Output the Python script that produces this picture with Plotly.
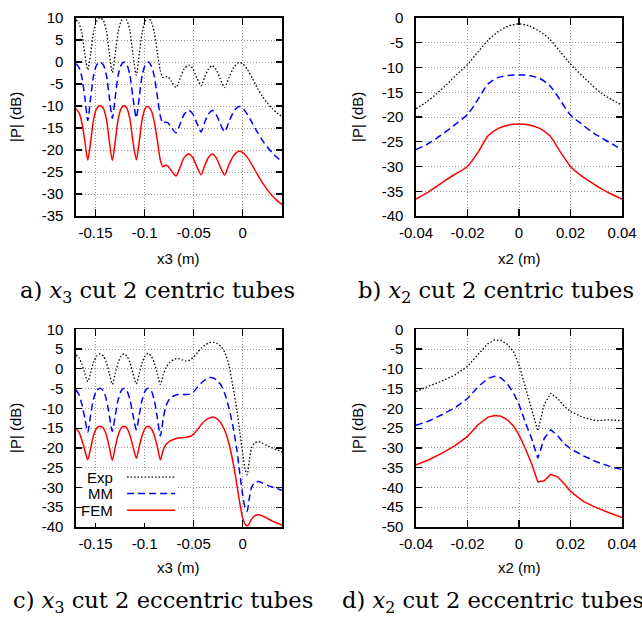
import plotly.graph_objects as go

# ---------------- data ----------------
# a) x3 cut, 2 centric tubes
x_a = [-0.170, -0.167, -0.164, -0.161, -0.158, -0.155, -0.152, -0.149, -0.1455, -0.142,
       -0.139, -0.136, -0.133, -0.130, -0.127, -0.124, -0.121, -0.118, -0.115, -0.112,
       -0.1085, -0.1055, -0.1025, -0.0995, -0.0965, -0.093, -0.090, -0.087, -0.084, -0.0815,
       -0.079, -0.0765, -0.0725, -0.068, -0.064, -0.060, -0.055, -0.051, -0.047, -0.0425,
       -0.039, -0.035, -0.031, -0.027, -0.023, -0.0185, -0.014, -0.009, -0.004, 0.000,
       0.005, 0.010, 0.015, 0.020, 0.025, 0.030, 0.035, 0.040]
exp_a = [9.6, 8.8, 6.5, 1.8, -1.8, 2.0, 7.0, 9.3, 10.1, 9.4,
         7.0, 2.0, -2.4, 1.8, 6.8, 9.3, 10.1, 9.4, 7.0, 1.8,
         -3.0, 1.8, 6.8, 9.3, 10.1, 9.0, 6.5, 2.0, -2.0, -3.5,
         -3.4, -3.3, -4.5, -5.8, -3.8, -1.7, -0.7, -1.5, -3.5, -5.4,
         -3.5, -1.6, -0.8, -1.8, -3.8, -5.8, -3.5, -1.2, -0.1, -0.4,
         -1.8, -3.8, -6.0, -7.8, -9.3, -10.6, -11.6, -12.4]
mm_a = [-0.4, -1.2, -3.5, -8.0, -13.3, -8.0, -3.0, -0.7, 0.0, -0.7,
        -3.0, -8.0, -12.8, -8.0, -3.0, -0.7, 0.0, -0.7, -3.0, -8.0,
        -12.7, -8.0, -3.0, -0.7, 0.0, -1.0, -3.5, -8.0, -12.3, -13.9,
        -13.7, -13.8, -15.0, -16.1, -14.2, -12.0, -11.0, -11.8, -13.8, -15.9,
        -13.8, -11.8, -11.0, -12.0, -14.0, -15.9, -13.5, -11.2, -10.1, -10.5,
        -12.0, -14.0, -16.0, -17.8, -19.3, -20.6, -21.7, -22.6]
fem_a = [-10.6, -11.5, -13.8, -18.0, -22.3, -18.0, -13.0, -10.6, -9.9, -10.6,
         -13.0, -18.0, -22.4, -18.0, -13.0, -10.6, -9.9, -10.6, -13.0, -18.0,
         -22.2, -18.0, -13.0, -10.6, -10.1, -11.2, -13.8, -18.0, -22.3, -23.8,
         -23.5, -23.6, -24.8, -25.9, -24.0, -21.8, -20.9, -21.7, -23.7, -25.6,
         -23.7, -21.7, -20.9, -21.8, -23.8, -25.7, -23.3, -21.2, -20.3, -20.6,
         -21.8, -23.6, -25.6, -27.4, -29.0, -30.4, -31.5, -32.4]

# b) x2 cut, 2 centric tubes
x_b = [-0.040, -0.036, -0.032, -0.028, -0.024, -0.020, -0.016, -0.012, -0.008, -0.004, 0.000,
       0.004, 0.008, 0.012, 0.016, 0.020, 0.024, 0.028, 0.032, 0.036, 0.040]
exp_b = [-18.3, -17.0, -15.3, -13.4, -11.3, -9.4, -6.9, -4.5, -2.7, -1.6, -1.2,
         -1.6, -2.7, -4.3, -6.8, -9.3, -11.4, -13.4, -15.2, -16.5, -17.6]
mm_b = [-26.6, -25.6, -24.3, -22.8, -21.2, -19.5, -16.5, -13.3, -12.0, -11.6, -11.5,
        -11.6, -12.2, -13.7, -16.6, -19.6, -21.3, -22.9, -24.2, -25.4, -26.6]
fem_b = [-36.6, -35.4, -34.0, -32.6, -31.3, -30.0, -27.2, -23.8, -22.3, -21.6, -21.4,
         -21.6, -22.3, -23.8, -27.0, -30.0, -31.8, -33.2, -34.5, -35.6, -36.6]

# c) x3 cut, 2 eccentric tubes
x_c = [-0.170, -0.167, -0.164, -0.161, -0.158, -0.155, -0.152, -0.149, -0.1455, -0.142,
       -0.139, -0.136, -0.133, -0.130, -0.127, -0.124, -0.121, -0.118, -0.115, -0.112,
       -0.1085, -0.1055, -0.1025, -0.0995, -0.0965, -0.093, -0.090, -0.087, -0.084, -0.081,
       -0.078, -0.074, -0.070, -0.066, -0.062, -0.058, -0.054, -0.050, -0.046, -0.042,
       -0.038, -0.034, -0.030, -0.026, -0.022, -0.018, -0.014, -0.010, -0.006, -0.003,
       0.000, 0.0025, 0.0045, 0.0065, 0.009, 0.012, 0.016, 0.020, 0.025, 0.030,
       0.035, 0.040]
exp_c = [3.5, 2.8, 1.2, -1.2, -3.2, -1.0, 1.8, 3.2, 3.8, 3.2,
         1.6, -1.2, -3.9, -1.2, 1.6, 3.2, 3.8, 3.2, 1.6, -1.2,
         -3.8, -1.2, 1.6, 3.3, 3.9, 3.1, 1.4, -1.3, -4.0, -1.5,
         0.4, 1.7, 2.4, 2.6, 2.3, 2.0, 2.2, 3.0, 4.2, 5.3,
         6.1, 6.6, 6.7, 6.4, 5.6, 4.0, 0.8, -4.5, -10.5, -16.0,
         -21.5, -25.5, -26.8, -23.5, -20.0, -18.8, -18.4, -18.8, -19.4, -20.0,
         -20.5, -21.0]
mm_c = [-5.3, -6.5, -9.0, -12.5, -16.0, -11.5, -7.5, -5.5, -4.9, -5.6,
        -7.8, -11.8, -15.8, -11.8, -7.8, -5.6, -4.9, -5.6, -7.8, -11.6,
        -15.4, -11.6, -7.8, -5.6, -4.9, -5.7, -8.2, -12.5, -17.0, -12.5,
        -9.2, -7.4, -6.8, -6.5, -6.5, -6.5, -6.4, -5.8, -4.6, -3.5,
        -2.7, -2.2, -2.3, -3.0, -4.2, -6.5, -10.0, -14.5, -20.5, -26.5,
        -32.0, -35.2, -36.0, -33.0, -30.0, -28.8, -28.5, -28.9, -29.4, -29.9,
        -30.3, -30.7]
fem_c = [-15.0, -16.0, -18.0, -20.6, -23.0, -20.0, -16.8, -15.0, -14.5, -15.0,
         -16.8, -19.8, -23.1, -19.8, -16.8, -15.0, -14.5, -15.0, -16.8, -19.6,
         -22.6, -19.6, -16.8, -15.0, -14.5, -15.2, -17.0, -19.8, -23.0, -20.5,
         -19.0, -18.2, -17.8, -17.5, -17.4, -17.3, -17.1, -16.5, -15.3, -14.0,
         -13.0, -12.4, -12.2, -12.7, -13.8, -15.8, -19.0, -23.5, -29.3, -34.0,
         -37.8, -39.3, -39.7, -39.2, -38.0, -37.2, -36.9, -37.2, -37.8, -38.5,
         -39.0, -39.5]

# d) x2 cut, 2 eccentric tubes
x_d = [-0.040, -0.035, -0.030, -0.025, -0.020, -0.016, -0.012, -0.0095, -0.007, -0.0045,
       -0.002, 0.000, 0.0025, 0.005, 0.0073, 0.0098, 0.0123, 0.015, 0.0175, 0.020,
       0.025, 0.030, 0.035, 0.040]
exp_d = [-15.7, -14.5, -13.1, -11.6, -9.4, -6.4, -3.6, -2.7, -2.8, -3.8,
         -5.8, -9.0, -14.6, -20.5, -25.7, -19.0, -16.2, -17.5, -19.4, -20.8,
         -22.3, -23.1, -22.9, -23.1]
mm_d = [-24.3, -23.2, -21.6, -19.9, -17.5, -14.6, -12.4, -11.9, -12.3, -13.8,
        -16.3, -19.0, -23.6, -27.8, -32.6, -27.6, -25.4, -26.9, -28.9, -30.2,
        -32.0, -33.5, -34.6, -35.5]
fem_d = [-34.3, -33.0, -31.4, -29.5, -27.1, -24.2, -22.2, -21.8, -22.0, -22.9,
         -24.6, -26.7, -30.2, -34.2, -38.6, -38.3, -36.7, -37.3, -39.0, -41.0,
         -43.5, -45.1, -46.4, -47.6]

series_names = ["Exp", "MM", "FEM"]
x3_ticks = [-0.15, -0.1, -0.05, 0]
x3_ticktext = ["-0.15", "-0.1", "-0.05", "0"]
x2_ticks = [-0.04, -0.02, 0, 0.02, 0.04]
x2_ticktext = ["-0.04", "-0.02", "0", "0.02", "0.04"]
captions = ["a) <i>x</i><sub>3</sub> cut 2 centric tubes",
            "b) <i>x</i><sub>2</sub> cut 2 centric tubes",
            "c) <i>x</i><sub>3</sub> cut 2 eccentric tubes",
            "d) <i>x</i><sub>2</sub> cut 2 eccentric tubes"]

# ---------------- figure ----------------
W, H = 642, 619
def px(x):
    return x / W
def py(y):
    return 1 - y / H

styles = [dict(color="black", width=1.3, dash="1.5px,2px"),
          dict(color="#0000ff", width=1.5, dash="7px,4px"),
          dict(color="#ff0000", width=1.5, dash="solid")]

panels = [
    (x_a, [exp_a, mm_a, fem_a], "x", "y", "spline"),
    (x_b, [exp_b, mm_b, fem_b], "x2", "y2", "spline"),
    (x_c, [exp_c, mm_c, fem_c], "x3", "y3", "spline"),
    (x_d, [exp_d, mm_d, fem_d], "x4", "y4", "linear"),
]

fig = go.Figure()
for xs, ys_list, xa, ya, shp in panels:
    for name, ys, st in zip(series_names, ys_list, styles):
        line = dict(st, shape=shp)
        if shp == "spline":
            line["smoothing"] = 0.7
        fig.add_trace(go.Scatter(x=xs, y=ys, mode="lines", name=name, line=line,
                                 xaxis=xa, yaxis=ya, showlegend=False, hoverinfo="skip"))

tickfont = dict(family="Liberation Sans, Arial, sans-serif", size=15, color="black")
def xaxis(dom, rng, tv, tt, anchor):
    return dict(domain=dom, range=rng, tickvals=tv, ticktext=tt, anchor=anchor, automargin=False,
                showline=True, linecolor="black", linewidth=1.6, mirror="ticks",
                ticks="inside", ticklen=7, tickwidth=1.2, tickcolor="black",
                showgrid=True, gridcolor="#9a9a9a", griddash="1px,2px", gridwidth=1,
                zeroline=False, tickfont=tickfont, ticklabelstandoff=2, fixedrange=True)
def yaxis(dom, rng, tv, anchor):
    return dict(domain=dom, range=rng, tickvals=tv, ticktext=[str(v) for v in tv], anchor=anchor,
                automargin=False,
                showline=True, linecolor="black", linewidth=1.6, mirror="ticks",
                ticks="inside", ticklen=6, tickwidth=1.2, tickcolor="black",
                showgrid=True, gridcolor="#9a9a9a", griddash="1px,2px", gridwidth=1,
                zeroline=False, tickfont=tickfont, ticklabelstandoff=8, fixedrange=True)

xd_left = [px(76), px(282)]
xd_right = [px(416), px(622)]
yd_top = [py(216), py(18)]
yd_bot = [py(527), py(329.3)]

fig.update_layout(
    width=W, height=H, autosize=False,
    margin=dict(l=0, r=0, t=0, b=0, pad=0),
    paper_bgcolor="white", plot_bgcolor="white",
    xaxis=xaxis(xd_left, [-0.17, 0.04], x3_ticks, x3_ticktext, "y"),
    yaxis=yaxis(yd_top, [-35, 10], list(range(-35, 11, 5)), "x"),
    xaxis2=xaxis(xd_right, [-0.04, 0.04], x2_ticks, x2_ticktext, "y2"),
    yaxis2=yaxis(yd_top, [-40, 0], list(range(-40, 1, 5)), "x2"),
    xaxis3=xaxis(xd_left, [-0.17, 0.04], x3_ticks, x3_ticktext, "y3"),
    yaxis3=yaxis(yd_bot, [-40, 10], list(range(-40, 11, 5)), "x3"),
    xaxis4=xaxis(xd_right, [-0.04, 0.04], x2_ticks, x2_ticktext, "y4"),
    yaxis4=yaxis(yd_bot, [-50, 0], list(range(-50, 1, 5)), "x4"),
)

labfont = dict(family="Liberation Sans, Arial, sans-serif", size=15, color="black")
ann = []
# axis titles
for cx, cy in [(15, 117), (357, 117), (15, 428), (357, 428)]:
    ann.append(dict(text="|P| (dB)", x=px(cx), y=py(cy), xref="paper", yref="paper",
                    showarrow=False, textangle=-90, font=labfont, xanchor="center", yanchor="middle"))
for t, cx, cy in [("x3 (m)", 179, 258), ("x2 (m)", 519, 258), ("x3 (m)", 179, 567), ("x2 (m)", 519, 567)]:
    ann.append(dict(text=t, x=px(cx), y=py(cy), xref="paper", yref="paper",
                    showarrow=False, font=labfont, xanchor="center", yanchor="middle"))
# captions
capfont = dict(family="DejaVu Serif, serif", size=22.6, color="black")
for t, cx, cy in [(captions[0], 18, 292), (captions[1], 356, 292),
                  (captions[2], 11, 602), (captions[3], 340, 602)]:
    ann.append(dict(text=t, x=px(cx), y=py(cy), xref="paper", yref="paper",
                    showarrow=False, font=capfont, xanchor="left", yanchor="middle"))

# legend in panel c (text left, sample right) on a white patch
shapes = [dict(type="rect", xref="x3 domain", yref="y3 domain", x0=0.035, x1=0.49, y0=0.02, y1=0.285,
               fillcolor="white", line=dict(width=0), layer="above")]
leg_rows = [0.252, 0.170, 0.085]
for name, st, yr in zip(series_names, styles, leg_rows):
    ann.append(dict(text=name, x=0.19, y=yr, xref="x3 domain", yref="y3 domain",
                    showarrow=False, font=labfont, xanchor="right", yanchor="middle"))
    shapes.append(dict(type="line", xref="x3 domain", yref="y3 domain", x0=0.248, x1=0.481,
                       y0=yr, y1=yr, line=dict(color=st["color"], width=st["width"], dash=st["dash"]),
                       layer="above"))

fig.update_layout(annotations=ann, shapes=shapes)
fig.write_html("out.html", config={"displayModeBar": False, "staticPlot": True},
               post_script="document.body.style.margin='0';document.body.style.padding='0';")
